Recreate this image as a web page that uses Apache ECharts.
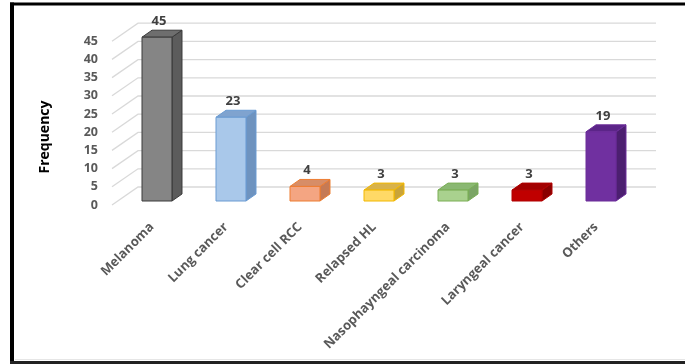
<!DOCTYPE html>
<html>
<head>
<meta charset="utf-8">
<script src="https://cdn.jsdelivr.net/npm/echarts@6/dist/echarts.min.js"></script>
<style>
html,body{margin:0;padding:0;background:#fff;}
#chart{width:685px;height:364px;}
</style>
</head>
<body>
<div id="chart"></div>
<script>
var categories = ['Melanoma', 'Lung cancer', 'Clear cell RCC', 'Relapsed HL', 'Nasophayngeal carcinoma', 'Laryngeal cancer', 'Others'];
var frequency = [45, 23, 4, 3, 3, 3, 19];
var yTicks = [0, 5, 10, 15, 20, 25, 30, 35, 40, 45];
var axisTitle = 'Frequency';

var palette = [
  {front: '#858585', side: '#5c5c5c', top: '#6e6e6e', stroke: '#3a3a3a'},
  {front: '#a9c8ea', side: '#6e93bf', top: '#7fa3cf', stroke: '#6a9bd2'},
  {front: '#f4a582', side: '#c57a55', top: '#d78d67', stroke: '#ed7d31'},
  {front: '#ffd966', side: '#c9a43a', top: '#d8b24a', stroke: '#f2b800'},
  {front: '#a9d18e', side: '#7ba565', top: '#8ab872', stroke: '#7aae55'},
  {front: '#c00000', side: '#8a0000', top: '#a20000', stroke: '#b00000'},
  {front: '#7030a0', side: '#4c1f70', top: '#5b2588', stroke: '#6a2c98'}
];

var DX = 10, DY = 7;       // bar depth offset
var FDX = 26, FDY = 18;    // floor depth offset
var BAR_SHIFT = 4;         // bar sits slightly behind the floor front edge
var FONT = '"Open Sans"';

var chart = echarts.init(document.getElementById('chart'), null, {renderer: 'canvas'});

var option = {
  animation: false,
  backgroundColor: '#ffffff',
  grid: {left: 120, right: 47, top: 41.2, bottom: 159},
  xAxis: {
    type: 'category',
    data: categories,
    axisLine: {show: false},
    axisTick: {show: false},
    axisLabel: {
      interval: 0, rotate: 45, margin: 15, padding: [0, 7, 0, 0],
      color: '#595959', fontFamily: FONT, fontWeight: 'bold', fontSize: 13
    }
  },
  yAxis: {
    type: 'value',
    min: 0, max: 45, interval: 5,
    axisLine: {show: false},
    axisTick: {show: false},
    splitLine: {show: false},
    axisLabel: {
      margin: 22,
      color: '#595959', fontFamily: FONT, fontWeight: 'bold', fontSize: 12.5
    }
  },
  graphic: [
    {type: 'text', x: 45, y: 137, rotation: Math.PI / 2,
     style: {text: axisTitle, fill: '#000', font: 'bold 14px ' + FONT, align: 'center', verticalAlign: 'middle'}},
    {type: 'rect', shape: {x: 10, y: 2.5, width: 675, height: 3}, style: {fill: '#000'}},
    {type: 'rect', shape: {x: 10, y: 2.5, width: 4, height: 362}, style: {fill: '#000'}},
    {type: 'rect', shape: {x: 10, y: 361, width: 675, height: 3}, style: {fill: '#222'}},
    {type: 'rect', shape: {x: 15, y: 359, width: 670, height: 1}, style: {fill: '#e6e6e6'}}
  ],
  series: [
    {
      type: 'custom',
      silent: true,
      data: yTicks.map(function (v) { return [0, v]; }),
      encode: {x: 0, y: 1},
      renderItem: function (params, api) {
        var v = api.value(1);
        var p0 = api.coord([0, v]);
        var pL = api.coord([categories.length - 1, v]);
        var half = api.size([1, 0])[0] / 2;
        var xFront = p0[0] - half - 8;
        var xEnd = pL[0] + half + 18;
        var y = p0[1];
        return {
          type: 'polyline',
          shape: {points: [[xFront, y], [xFront + FDX, y - FDY], [xEnd, y - FDY]]},
          style: {stroke: '#d9d9d9', lineWidth: 1.3, fill: null}
        };
      },
      z: 1
    },
    {
      type: 'custom',
      data: frequency.map(function (v, i) { return [i, v]; }),
      encode: {x: 0, y: 1},
      renderItem: function (params, api) {
        var i = api.value(0);
        var v = api.value(1);
        var top = api.coord([i, v]);
        var base = api.coord([i, 0]);
        var w = api.size([1, 0])[0] * 0.405;
        var x0 = top[0] - w / 2, x1 = top[0] + w / 2;
        var yt = top[1] - BAR_SHIFT, yb = base[1] - BAR_SHIFT;
        var c = palette[i];
        return {
          type: 'group',
          children: [
            {type: 'polygon', shape: {points: [[x1, yt], [x1 + DX, yt - DY], [x1 + DX, yb - DY], [x1, yb]]},
             style: {fill: c.side, stroke: c.stroke, lineWidth: 1}},
            {type: 'polygon', shape: {points: [[x0, yt], [x0 + DX, yt - DY], [x1 + DX, yt - DY], [x1, yt]]},
             style: {fill: c.top, stroke: c.stroke, lineWidth: 1}},
            {type: 'rect', shape: {x: x0, y: yt, width: w, height: yb - yt},
             style: {fill: c.front, stroke: c.stroke, lineWidth: 1}},
            {type: 'text', x: top[0] + 2, y: yt - DY - 9,
             style: {text: String(v), fill: '#404040', font: 'bold 13px ' + FONT, align: 'center', verticalAlign: 'middle'}}
          ]
        };
      },
      z: 2
    }
  ]
};
chart.setOption(option);
</script>
</body>
</html>
